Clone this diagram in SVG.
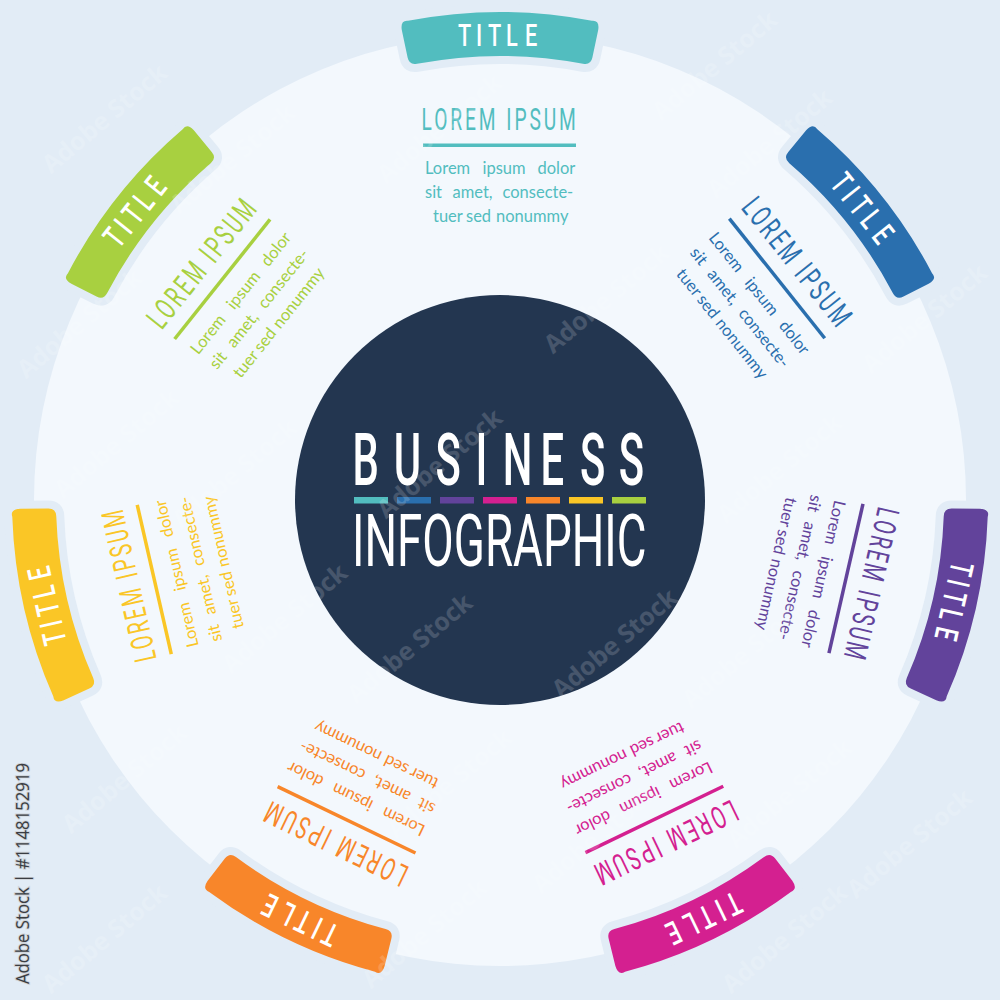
<svg xmlns="http://www.w3.org/2000/svg" xmlns:xlink="http://www.w3.org/1999/xlink" width="1000" height="1000" viewBox="0 0 1000 1000">
<style>
.cond{font-family:Roboto,"Liberation Sans",sans-serif}
.body{font-family:Lato,"Open Sans",sans-serif;font-size:16.5px}
.hd{font-size:31px;letter-spacing:4.7px}
.tt{font-size:32px;fill:#fff;font-weight:500}
.big{font-size:72px;fill:#fff}
.halo{fill:#e2ecf6;stroke:#e2ecf6;stroke-width:16;stroke-linejoin:round}
.wm{font-family:"Open Sans",sans-serif;font-size:25px;font-weight:700;fill:#fff;opacity:.16;text-anchor:middle}
.s1{fill:#52bdbf}.s2{fill:#2a6fae}.s3{fill:#62439b}.s4{fill:#d42090}.s5{fill:#f8862a}.s6{fill:#fac626}.s7{fill:#a8d040}
</style>
<defs>
<path id="tab" d="M408 20.75A488 488 0 0 1 592 20.75Q599.8 20 598.2 30.1L592.4 57.6Q590.8 65.4 583 63.8A444 444 0 0 0 417 63.8Q409.2 65.4 407.6 57.6L401.8 30.1Q400.2 20 408 20.75Z"/>
<g id="seg">
<use xlink:href="#tab" class="halo"/>
<use xlink:href="#tab"/>
<text class="cond tt" transform="translate(0 46) scale(.68 1)" x="673.5 700 717.6 744 772">TITLE</text>
<text class="cond hd" transform="translate(421.5 130) scale(.62 1)">LOREM IPSUM</text>
<rect x="423" y="143.5" width="153" height="3.5"/>
<text class="body" y="174"><tspan x="425">Lorem </tspan><tspan x="482.5">ipsum </tspan><tspan x="537.5">dolor</tspan></text>
<text class="body" y="198"><tspan x="425">sit </tspan><tspan x="452.5">amet, </tspan><tspan x="502.5">consecte-</tspan></text>
<text class="body" y="222"><tspan x="433">tuer </tspan><tspan x="466">sed </tspan><tspan x="496">nonummy</tspan></text>
</g>
</defs>
<rect id="background" width="1000" height="1000" fill="#e2ecf6"/>
<circle id="disc" cx="500" cy="500" r="466" fill="#f3f8fd"/>
<g id="seg1" class="s1"><use xlink:href="#seg"/></g>
<g id="seg2" class="s2" transform="rotate(51.43 500 500)"><use xlink:href="#seg"/></g>
<g id="seg3" class="s3" transform="rotate(102.86 500 500)"><use xlink:href="#seg"/></g>
<g id="seg4" class="s4" transform="rotate(154.29 500 500)"><use xlink:href="#seg"/></g>
<g id="seg5" class="s5" transform="rotate(205.71 500 500)"><use xlink:href="#seg"/></g>
<g id="seg6" class="s6" transform="rotate(257.14 500 500)"><use xlink:href="#seg"/></g>
<g id="seg7" class="s7" transform="rotate(308.57 500 500)"><use xlink:href="#seg"/></g>
<g id="hub">
<circle cx="500" cy="500" r="205" fill="#233650"/>
<text class="cond big" font-weight="500" transform="translate(0 485) scale(.58 1)" x="607.6 679 751 820 867 932 1000 1067">BUSINESS</text>
<text class="cond big" transform="translate(352 566) scale(.635 1)">INFOGRAPHIC</text>
<rect class="s1" x="354" y="497" width="34" height="6.5"/>
<rect class="s2" x="397" y="497" width="34" height="6.5"/>
<rect class="s3" x="440" y="497" width="34" height="6.5"/>
<rect class="s4" x="483" y="497" width="34" height="6.5"/>
<rect class="s5" x="526" y="497" width="34" height="6.5"/>
<rect class="s6" x="569" y="497" width="34" height="6.5"/>
<rect class="s7" x="612" y="497" width="34" height="6.5"/>
</g>
<g id="watermarks">
<text class="wm" transform="translate(110 125) rotate(-40)">Adobe Stock</text>
<text class="wm" transform="translate(238 165) rotate(-40)">Adobe Stock</text>
<text class="wm" transform="translate(85 330) rotate(-40)">Adobe Stock</text>
<text class="wm" transform="translate(122 450) rotate(-40)">Adobe Stock</text>
<text class="wm" transform="translate(240 480) rotate(-40)">Adobe Stock</text>
<text class="wm" transform="translate(290 625) rotate(-40)">Adobe Stock</text>
<text class="wm" transform="translate(415 655) rotate(-40)">Adobe Stock</text>
<text class="wm" transform="translate(130 785) rotate(-40)">Adobe Stock</text>
<text class="wm" transform="translate(110 945) rotate(-40)">Adobe Stock</text>
<text class="wm" transform="translate(445 470) rotate(-40)">Adobe Stock</text>
<text class="wm" transform="translate(620 650) rotate(-40)">Adobe Stock</text>
<text class="wm" transform="translate(775 150) rotate(-40)">Adobe Stock</text>
<text class="wm" transform="translate(930 325) rotate(-40)">Adobe Stock</text>
<text class="wm" transform="translate(785 475) rotate(-40)">Adobe Stock</text>
<text class="wm" transform="translate(612 305) rotate(-40)">Adobe Stock</text>
<text class="wm" transform="translate(720 72) rotate(-40)">Adobe Stock</text>
<text class="wm" transform="translate(445 135) rotate(-40)">Adobe Stock</text>
<text class="wm" transform="translate(455 790) rotate(-40)">Adobe Stock</text>
<text class="wm" transform="translate(600 845) rotate(-40)">Adobe Stock</text>
<text class="wm" transform="translate(795 800) rotate(-40)">Adobe Stock</text>
<text class="wm" transform="translate(915 850) rotate(-40)">Adobe Stock</text>
<text class="wm" transform="translate(750 660) rotate(-40)">Adobe Stock</text>
<text class="wm" transform="translate(430 940) rotate(-40)">Adobe Stock</text>
<text class="wm" transform="translate(790 945) rotate(-40)">Adobe Stock</text>
</g>
<text id="credit" transform="translate(29 984) rotate(-90)" font-family="'Open Sans',sans-serif" font-size="19" textLength="221" lengthAdjust="spacingAndGlyphs" fill="#3a3d42" stroke="#cfd3d8" stroke-width="2" paint-order="stroke">Adobe Stock | #1148152919</text>
</svg>
